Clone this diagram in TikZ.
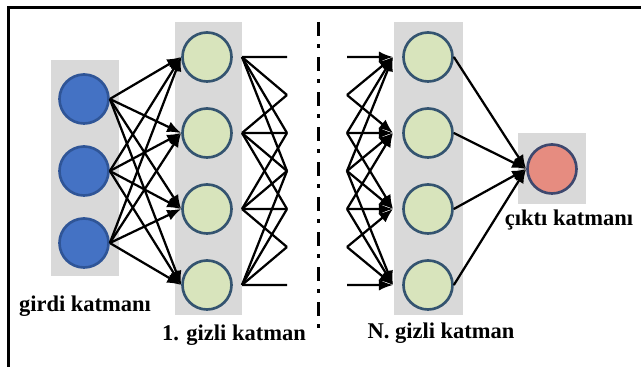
\documentclass[tikz,border=0pt]{standalone}
\usepackage{fontspec}
\setmainfont{Liberation Serif}
\definecolor{layergray}{RGB}{217, 217, 217}
\definecolor{infill}{RGB}{68, 114, 196}
\definecolor{inborder}{RGB}{47, 85, 151}
\definecolor{hidfill}{RGB}{216, 228, 188}
\definecolor{hidborder}{RGB}{52, 84, 112}
\definecolor{outfill}{RGB}{230, 140, 128}
\definecolor{outborder}{RGB}{62, 72, 110}
\usetikzlibrary{arrows.meta, positioning, calc}
\tikzset{
  neuron/.style={circle, line width=1.9pt, minimum size=1.225cm, inner sep=0pt},
  wire/.style={line width=1.6pt, black},
  arr/.style={wire, -{Latex[length=10pt, width=8pt]}},
  layerlabel/.style={font=\fontsize{16}{18}\selectfont\bfseries, inner sep=0pt, anchor=base}
}
\begin{document}
\begin{tikzpicture}[x=0.025cm, y=-0.025cm]
  \useasboundingbox (0, 0) rectangle (641, 367);

  % Frame
  \draw[line width=2pt] (641, 7.5) -- (8.5, 7.5) -- (8.5, 367);

  % Layer backgrounds
  \fill[layergray] (51, 60) rectangle (119, 276);
  \fill[layergray] (175, 22) rectangle (242, 315);
  \fill[layergray] (394, 22) rectangle (463, 315);
  \fill[layergray] (518, 133) rectangle (586, 204);

  % Input layer
  \foreach \i/\y in {1/99, 2/171, 3/243}
    \node[neuron, draw=inborder, fill=infill] (in-\i) at (84, \y) {};

  % Hidden layers
  \foreach \k/\y in {1/57, 2/133, 3/209, 4/285} {
    \node[neuron, draw=hidborder, fill=hidfill] (h1-\k) at (207, \y) {};
    \node[neuron, draw=hidborder, fill=hidfill] (hN-\k) at (428, \y) {};
    \coordinate (h1o-\k) at (242, \y);
    \coordinate (h1v-\k) at (332, \y);
    \coordinate (hNv-\k) at (301, \y);
    \coordinate (hNi-\k) at (393, \y);
  }

  % Output layer
  \node[neuron, draw=outborder, fill=outfill] (out) at (552, 169) {};

  % Input -> 1. hidden
  \foreach \i in {1, 2, 3}
    \foreach \k in {1, 2, 3, 4}
      \draw[arr] (in-\i.east) -- (h1-\k.west);

  % 1. hidden -> ... -> N. hidden (cut)
  \foreach \j in {1, 2, 3, 4}
    \foreach \k in {1, 2, 3, 4} {
      \draw[wire] (h1o-\j) -- ($(h1o-\j)!0.5!(h1v-\k)$);
      \draw[arr] ($(hNv-\j)!0.5!(hNi-\k)$) -- (hNi-\k);
    }

  % N. hidden -> output
  \foreach \k in {1, 2, 3, 4}
    \draw[arr] (hN-\k.east) -- (out.west);

  % Separator
  \draw[line width=2.8pt, dash pattern=on 10pt off 5.7pt on 2.8pt off 6.4pt] (318.5, 22) coordinate (sep-top) -- (318.5, 332) coordinate (sep-bot);

  % Labels
  \node[layerlabel] (lbl-in) at (85, 312) {girdi katmanı};
  \node[layerlabel] (lbl-h1) at (234, 341) {1. gizli katman};
  \node[layerlabel] (lbl-hN) at (441, 339) {N. gizli katman};
  \node[layerlabel] (lbl-out) at (569, 226) {çıktı katmanı};
\end{tikzpicture}
\end{document}
